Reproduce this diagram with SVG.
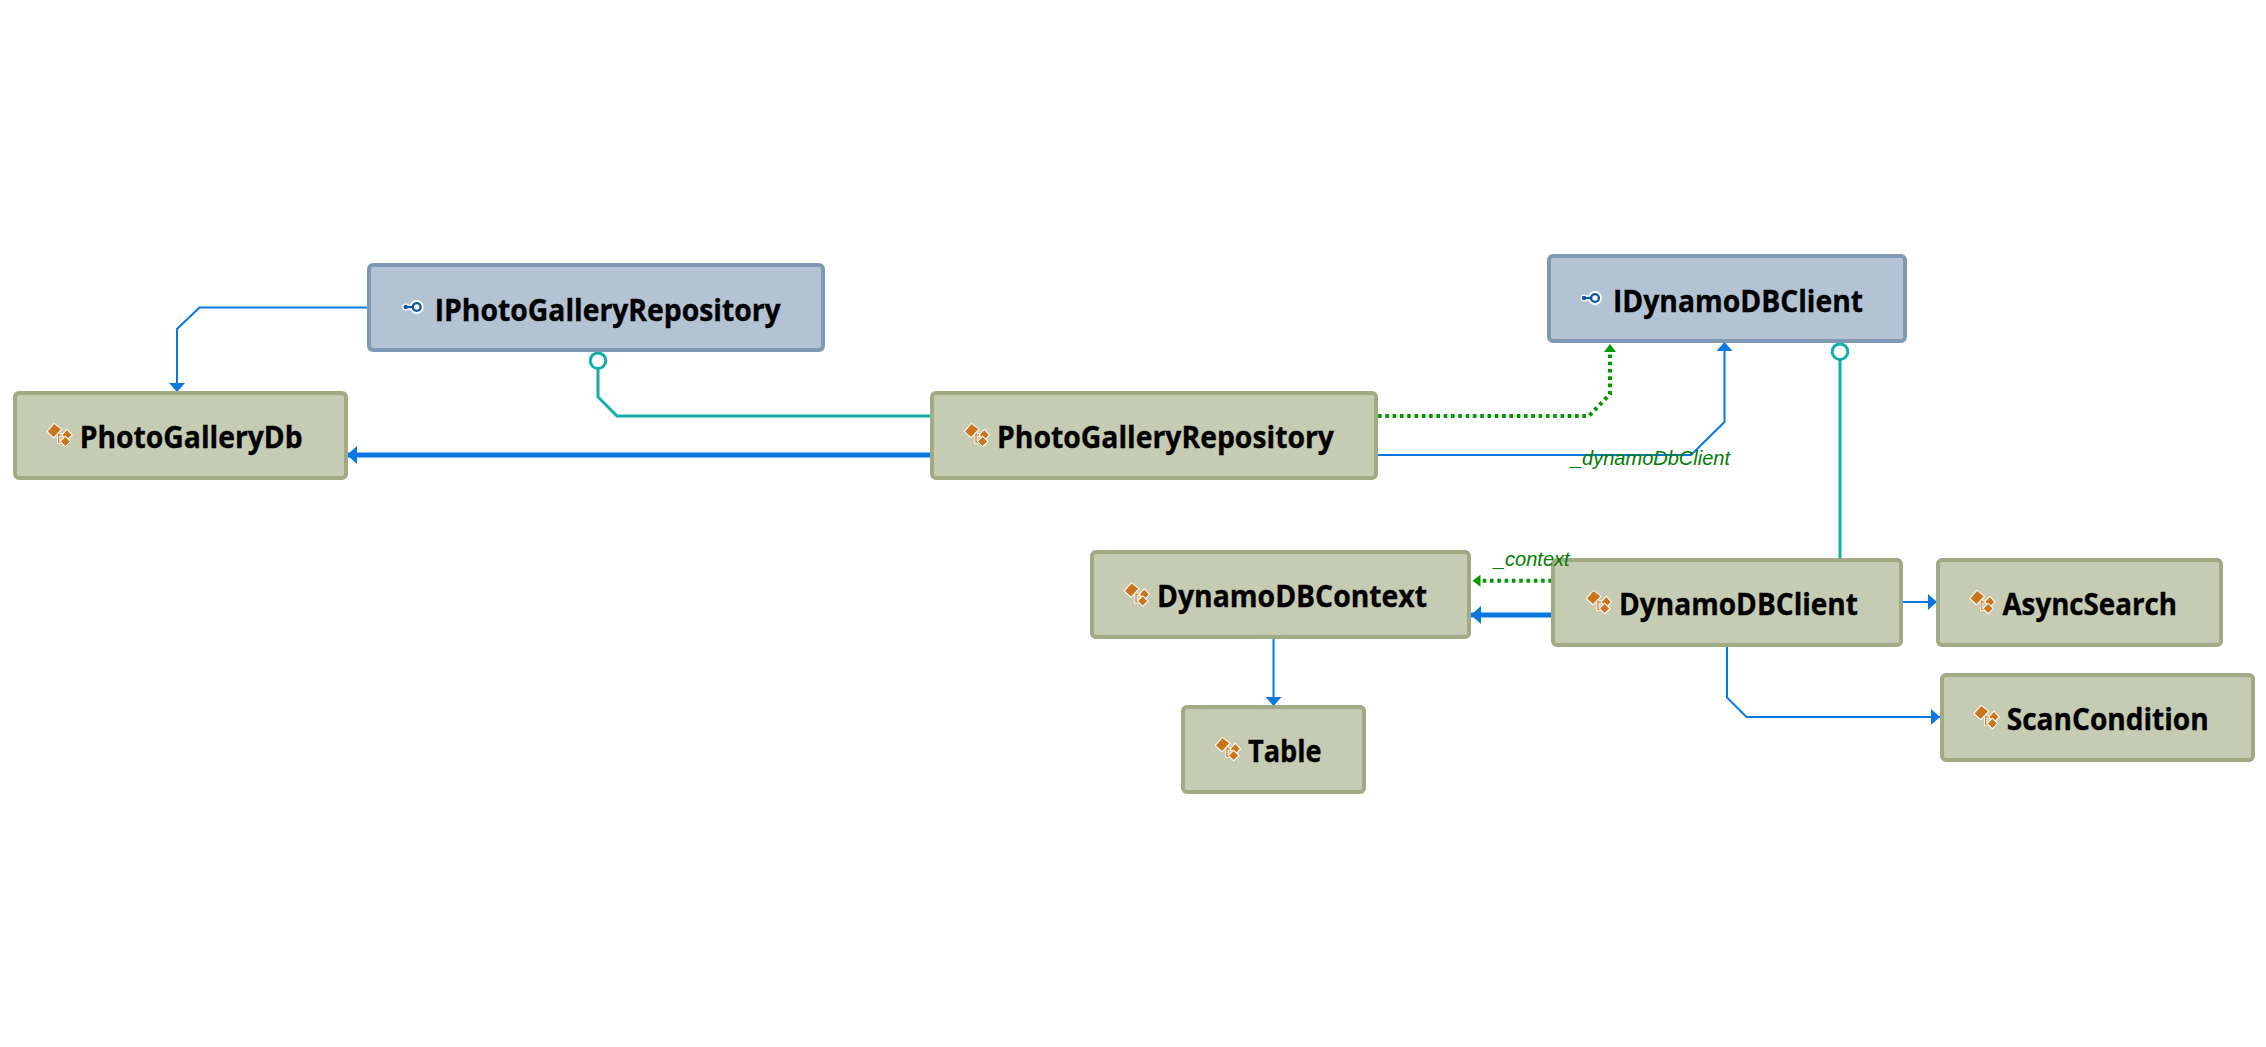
<svg xmlns="http://www.w3.org/2000/svg" width="2266" height="1047" viewBox="0 0 2266 1047">
<style>
.bg{fill:#fff}
.c rect{fill:#c6cbb3;stroke:#a2a985;stroke-width:4}
.i rect{fill:#b3c3d3;stroke:#7f99b4;stroke-width:4}
.n{font-family:"Open Sans","Noto Sans","Liberation Sans",sans-serif;font-weight:700;font-size:29.500px;fill:#000;stroke:#000;stroke-width:.35}
.l{font-family:"Liberation Sans",Arial,sans-serif;font-style:italic;font-size:20px;fill:#008000}
.line{fill:none;stroke-linejoin:miter}
.blue{stroke:#0a78e0;stroke-width:2}
.thick{stroke:#0a78e0;stroke-width:5}
.teal{stroke:#10aeaa;stroke-width:3}
.dot{stroke:#009900;stroke-width:4;stroke-dasharray:3.6 3.7}
.lol{fill:#fff;stroke:#10aeaa;stroke-width:3}
</style>
<defs>
<marker id="ab" markerUnits="userSpaceOnUse" markerWidth="10" markerHeight="16" refX="9" refY="8" orient="auto"><path d="M0 0L9 8L0 16Z" fill="#0a78e0"/></marker>
<marker id="at" markerUnits="userSpaceOnUse" markerWidth="11" markerHeight="18" refX="10" refY="9" orient="auto"><path d="M0 0L10 9L0 18Z" fill="#0a78e0"/></marker>
<marker id="ag" markerUnits="userSpaceOnUse" markerWidth="9" markerHeight="12" refX="8" refY="6" orient="auto"><path d="M0 0L8 6L0 12Z" fill="#009900"/></marker>
<g id="ci">
<path d="M-21-14.500V-4.500H-16M-21-12H-16" fill="none" stroke="#fff" stroke-width="3"/>
<path d="M-21-14.500V-4.500H-16M-21-12H-16" fill="none" stroke="#d08a3c" stroke-width="1.400"/>
<g stroke="#fff" stroke-width="2" paint-order="stroke" fill="#c8751c">
<path d="M-32-15.500L-25.500-23L-18.700-17.700L-26-10Z"/>
<path d="M-12.700-17L-8.200-12L-12.700-7.500L-17.200-12Z"/>
<path d="M-14.300-10L-9.800-5.500L-14.300-1L-18.800-5.500Z"/>
</g>
</g>
<g id="ii">
<path d="M-29-13H-18" stroke="#fff" stroke-width="5"/>
<circle cx="-18" cy="-13" r="7" fill="#fff"/>
<circle cx="-29" cy="-13" r="3.500" fill="#fff"/>
<path d="M-29-13H-18" stroke="#0f55a5" stroke-width="2.200"/>
<circle cx="-29" cy="-13" r="2.200" fill="#0f55a5"/>
<circle cx="-18" cy="-13" r="3.900" fill="#fff" stroke="#0f55a5" stroke-width="2.400"/>
</g>
</defs>
<rect class="bg" width="2266" height="1047"/>
<g id="connectors">
<path class="line blue" marker-end="url(#ab)" d="M368 307.500H199.500L177 329V392"/>
<path class="line teal" d="M598 369V397L617 416H931"/>
<circle class="lol" cx="598" cy="360.700" r="7.800"/>
<path class="line thick" marker-end="url(#at)" d="M931 455H347"/>
<path class="line dot" marker-end="url(#ag)" d="M1378 416H1589L1610 394V344"/>
<path class="line blue" marker-end="url(#ab)" d="M1378 455H1691L1724.500 422V342"/>
<path class="line teal" d="M1840 360V558"/>
<circle class="lol" cx="1840" cy="351.700" r="7.800"/>
<path class="line dot" marker-end="url(#ag)" d="M1552 580.700H1472.500"/>
<path class="line thick" marker-end="url(#at)" d="M1552 615H1471"/>
<path class="line blue" marker-end="url(#ab)" d="M1273.500 638V706"/>
<path class="line blue" marker-end="url(#ab)" d="M1903 602H1937"/>
<path class="line blue" marker-end="url(#ab)" d="M1727 647V697.500L1746.500 717H1940"/>
</g>
<g id="IPhotoGalleryRepository" class="i"><rect x="369" y="265" width="454" height="85" rx="4"/><use href="#ii" x="434.700" y="320"/><text class="n" x="434.700" y="320.500" textLength="346" lengthAdjust="spacingAndGlyphs">IPhotoGalleryRepository</text></g>
<g id="IDynamoDBClient" class="i"><rect x="1549" y="256" width="356" height="85" rx="4"/><use href="#ii" x="1613" y="311"/><text class="n" x="1613" y="311.500" textLength="250" lengthAdjust="spacingAndGlyphs">IDynamoDBClient</text></g>
<g id="PhotoGalleryDb" class="c"><rect x="15" y="393" width="331" height="85" rx="4"/><use href="#ci" x="79.700" y="447"/><text class="n" x="79.700" y="447.700" textLength="223" lengthAdjust="spacingAndGlyphs">PhotoGalleryDb</text></g>
<g id="PhotoGalleryRepository" class="c"><rect x="932" y="393" width="444" height="85" rx="4"/><use href="#ci" x="997" y="447"/><text class="n" x="997" y="447.700" textLength="337" lengthAdjust="spacingAndGlyphs">PhotoGalleryRepository</text></g>
<g id="DynamoDBContext" class="c"><rect x="1092" y="552" width="377" height="85" rx="4"/><use href="#ci" x="1157" y="606.500"/><text class="n" x="1157" y="607" textLength="270" lengthAdjust="spacingAndGlyphs">DynamoDBContext</text></g>
<g id="Table" class="c"><rect x="1183" y="707" width="181" height="85" rx="4"/><use href="#ci" x="1248" y="761"/><text class="n" x="1248" y="761.500" textLength="73.500" lengthAdjust="spacingAndGlyphs">Table</text></g>
<g id="DynamoDBClient" class="c"><rect x="1553" y="560" width="348" height="85" rx="4"/><use href="#ci" x="1619" y="614"/><text class="n" x="1619" y="614.500" textLength="239" lengthAdjust="spacingAndGlyphs">DynamoDBClient</text></g>
<g id="AsyncSearch" class="c"><rect x="1938" y="560" width="283" height="85" rx="4"/><use href="#ci" x="2002.500" y="614"/><text class="n" x="2002.500" y="614.500" textLength="174.500" lengthAdjust="spacingAndGlyphs">AsyncSearch</text></g>
<g id="ScanCondition" class="c"><rect x="1942" y="675" width="311" height="85" rx="4"/><use href="#ci" x="2006.700" y="729"/><text class="n" x="2006.700" y="729.500" textLength="202" lengthAdjust="spacingAndGlyphs">ScanCondition</text></g>
<g id="labels">
<text class="l" x="1571" y="465">_dynamoDbClient</text>
<text class="l" x="1494" y="566">_context</text>
</g>
</svg>
